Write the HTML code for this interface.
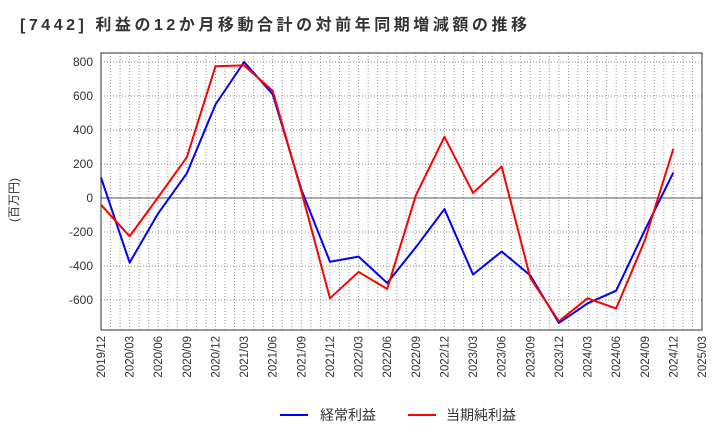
<!DOCTYPE html>
<html><head><meta charset="utf-8"><style>
body{margin:0;background:#fff;font-family:"Liberation Sans","Noto Sans CJK JP",sans-serif;}
</style></head><body>
<svg id="c" width="720" height="440" xmlns="http://www.w3.org/2000/svg">
<text x="20" y="30" font-size="16" font-weight="bold" fill="#333" textLength="507" lengthAdjust="spacing" font-family="Liberation Sans, Noto Sans CJK JP, sans-serif">[7442]  利益の12か月移動合計の対前年同期増減額の推移</text>
<text transform="translate(18,200) rotate(-90)" font-size="12" fill="#333" text-anchor="middle" font-family="Liberation Sans, Noto Sans CJK JP, sans-serif">(百万円)</text>
<g id="grid"></g><g id="axes"></g><g id="series"></g>
<g>
<line x1="280" y1="415" x2="308" y2="415" stroke="#0000ff" stroke-width="2"/>
<text x="320" y="420" font-size="14" fill="#333">経常利益</text>
<line x1="408" y1="415" x2="436" y2="415" stroke="#ff0000" stroke-width="2"/>
<text x="446" y="420" font-size="14" fill="#333">当期純利益</text>
</g>
</svg>
<script>
const categories=["2019/12","2020/03","2020/06","2020/09","2020/12","2021/03","2021/06","2021/09","2021/12","2022/03","2022/06","2022/09","2022/12","2023/03","2023/06","2023/09","2023/12","2024/03","2024/06","2024/09","2024/12","2025/03"];
const ordinaryProfit=[120,-380,-90,145,550,800,610,50,-375,-345,-500,-290,-65,-450,-315,-455,-735,-620,-545,-190,150];
const netProfit=[-40,-225,5,240,775,780,630,40,-590,-435,-535,15,360,30,185,-470,-725,-590,-650,-250,290];
const yTicks=[-600,-400,-200,0,200,400,600,800];
const NS="http://www.w3.org/2000/svg";
const L=101,R=702,T=53,B=330;
const x=i=>L+(R-L)*i/(categories.length-1);
const y=v=>198-v*0.17;
function mk(tag,attrs,parent){const e=document.createElementNS(NS,tag);for(const k in attrs)e.setAttribute(k,attrs[k]);parent.appendChild(e);return e;}
const grid=document.getElementById('grid'),axes=document.getElementById('axes'),series=document.getElementById('series');
for(let m=1;m<(categories.length-1)*3;m++){const xx=L+(R-L)*m/((categories.length-1)*3);
const g=mk('line',{x1:xx,x2:xx,y1:T,y2:B,stroke:'#999','stroke-dasharray':'1,2','stroke-width':1},grid);

}
yTicks.forEach(v=>{const g=mk('line',{x1:L,x2:R,y1:y(v),y2:y(v),stroke:v===0?'#555':'#888','stroke-dasharray':v===0?'':'1,2','stroke-width':1},grid);


const t=mk('text',{x:L-8,y:y(v)+4,'text-anchor':'end','font-size':12,fill:'#333'},axes);t.textContent=v;

});
const fr=mk('rect',{x:L,y:T,width:R-L,height:B-T,fill:'none',stroke:'#333','stroke-width':1},axes);


categories.forEach((c,i)=>{const t=mk('text',{transform:`translate(${x(i)+4},${B+6}) rotate(-90)`,'text-anchor':'end','font-size':11.5,fill:'#333'},axes);t.textContent=c;

});
function line(data,color,name){const p=mk('polyline',{points:data.map((v,i)=>x(i)+','+y(v)).join(' '),fill:'none',stroke:color,'stroke-width':2,'stroke-linejoin':'round'},series);

}
line(ordinaryProfit,'#0000ff','ordinary-profit-line');
line(netProfit,'#ff0000','net-profit-line');
</script>
</body></html>
